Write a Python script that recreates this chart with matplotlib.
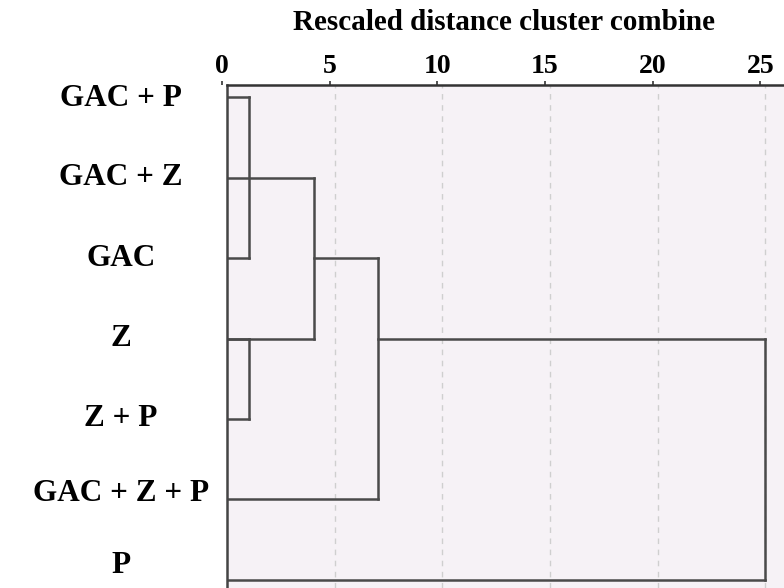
import matplotlib
matplotlib.use("Agg")
import matplotlib.pyplot as plt
import matplotlib.transforms as mtrans

# ---- data ----
labels = ["GAC + P", "GAC + Z", "GAC", "Z", "Z + P", "GAC + Z + P", "P"]
# links: (row_a, row_b, merge distance, start x of row_a branch, start x of row_b branch)
link_rows_a = [0, 3, 1, 2, 3]
link_rows_b = [2, 4, 3, 5, 6]
link_heights = [1.0, 1.0, 4.05, 7.0, 25.0]
link_start_a = [0.0, 0.0, 0.0, 4.05, 7.0]
link_start_b = [0.0, 0.0, 0.0, 0.0, 0.0]
xticks = [0, 5, 10, 15, 20, 25]
title = "Rescaled distance cluster combine"

serif = ["Liberation Serif", "DejaVu Serif"]

fig = plt.figure(figsize=(7.84, 5.88), dpi=100)
ax = fig.add_axes([227 / 784, 0.0, 1 - 227 / 784, 1 - 85 / 588])
ax.set_facecolor("#f6f2f6")

line_kw = dict(color="#4a4a4a", lw=1.8, solid_capstyle="projecting")
for ra, rb, h, xa, xb in zip(link_rows_a, link_rows_b, link_heights, link_start_a, link_start_b):
    ax.plot([xa, h], [ra, ra], **line_kw)
    ax.plot([xb, h], [rb, rb], **line_kw)
    ax.plot([h, h], [ra, rb], **line_kw)

for t in xticks[1:]:
    ax.axvline(t, color="#cfcfcf", lw=1.0, ls=(0, (4, 4)), zorder=0)

ax.set_xlim(0, 25.86)
ax.set_ylim(6.1, -0.15)

ax.xaxis.tick_top()
ax.set_xticks(xticks)
ax.set_xticklabels([str(t) for t in xticks], fontfamily=serif, fontweight="bold", fontsize=20)
ax.tick_params(axis="x", which="both", top=True, bottom=False, length=3, width=1.2,
               direction="out", pad=1, color="#333333")
ax.set_yticks([])
off = mtrans.ScaledTranslation(-5 / 100, 0, fig.dpi_scale_trans)
for tick in ax.xaxis.get_major_ticks():
    tick.label2.set_transform(tick.label2.get_transform() + off)
    tick.tick2line.set_transform(tick.tick2line.get_transform() + off)

for side in ["right", "bottom"]:
    ax.spines[side].set_visible(False)
ax.spines["top"].set_color("#333333")
ax.spines["top"].set_linewidth(1.8)
ax.spines["left"].set_color("#444444")
ax.spines["left"].set_linewidth(1.8)

label_trans = mtrans.blended_transform_factory(fig.transFigure, ax.transData)
label_dy = [0.02, 0.0, 0.0, 0.0, 0.0, -0.08, -0.18]
for i, (lab, dy) in enumerate(zip(labels, label_dy)):
    ax.text(121 / 784, i + dy, lab, transform=label_trans, ha="center", va="center",
            fontfamily=serif, fontweight="bold", fontsize=22.5, clip_on=False)

fig.text(504 / 784, 1 - 22 / 588, title, ha="center", va="center",
         fontfamily=serif, fontweight="bold", fontsize=21)

fig.savefig("out.png", dpi=100, facecolor="white")
